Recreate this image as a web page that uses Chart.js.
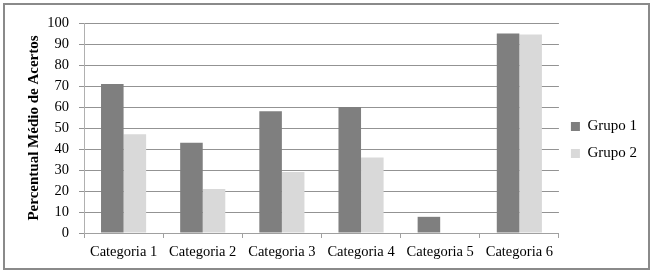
<!DOCTYPE html>
<html lang="pt">
<head>
    <meta charset="UTF-8">
    <title>Percentual Médio de Acertos</title>
    <script src="https://cdn.jsdelivr.net/npm/chart.js"></script>
    <style>
        body {
            margin: 0;
            background-color: #fff;
        }
        .chart-box {
            position: relative;
            width: 655px;
            height: 277px;
        }
    </style>
</head>
<body>
    <div class="chart-box">
        <canvas id="chart" width="655" height="277"></canvas>
    </div>

    <script>
        // Data
        const categories = ['Categoria 1', 'Categoria 2', 'Categoria 3', 'Categoria 4', 'Categoria 5', 'Categoria 6'];
        const grupo1 = [71, 43, 58, 60, 7.7, 95];
        const grupo2 = [47, 21, 29, 36, 0, 94.5];
        const yTicks = [0, 10, 20, 30, 40, 50, 60, 70, 80, 90, 100];

        const serif = 'Liberation Serif';

        // grey frame round the whole chart, and legend nudged up a bit
        const framePlugin = {
            id: 'frame',
            afterLayout(chart) {
                chart.legend.top -= 5;
                chart.legend.bottom -= 5;
            },
            afterDraw(chart) {
                const ctx = chart.ctx;
                ctx.save();
                ctx.strokeStyle = '#8a8a8a';
                ctx.lineWidth = 2;
                ctx.strokeRect(4, 4, 645, 265);
                ctx.restore();
            }
        };

        function drawChart() {
            new Chart(document.getElementById('chart'), {
                type: 'bar',
                data: {
                    labels: categories,
                    datasets: [
                        { label: 'Grupo 1', data: grupo1, backgroundColor: '#7f7f7f' },
                        { label: 'Grupo 2', data: grupo2, backgroundColor: '#d9d9d9' }
                    ]
                },
                options: {
                    responsive: false,
                    animation: false,
                    devicePixelRatio: 1,
                    categoryPercentage: 0.57,
                    barPercentage: 1,
                    layout: { padding: { top: 23, left: 25, right: 8, bottom: 10 } },
                    plugins: {
                        tooltip: { enabled: false },
                        legend: {
                            position: 'right',
                            labels: {
                                boxWidth: 9,
                                boxHeight: 9,
                                padding: 12,
                                color: '#000',
                                font: { family: serif, size: 15 }
                            }
                        }
                    },
                    scales: {
                        x: {
                            grid: {
                                drawOnChartArea: false,
                                drawTicks: true,
                                tickLength: 5,
                                color: '#a0a0a0'
                            },
                            border: { color: '#a0a0a0' },
                            ticks: {
                                color: '#000',
                                maxRotation: 0,
                                padding: 5,
                                font: { family: serif, size: 14.5 }
                            },
                            afterFit(scale) { scale.height = 34; }
                        },
                        y: {
                            min: 0,
                            max: 100,
                            afterBuildTicks(scale) {
                                scale.ticks = yTicks.map(v => ({ value: v }));
                            },
                            grid: {
                                color: '#939393',
                                tickLength: 5
                            },
                            border: { color: '#b0b0b0' },
                            ticks: {
                                color: '#000',
                                padding: 10,
                                font: { family: serif, size: 14.5 }
                            },
                            title: {
                                display: true,
                                text: 'Percentual Médio de Acertos',
                                color: '#000',
                                padding: 0,
                                font: { family: serif, size: 15, weight: 'bold' }
                            },
                            afterFit(scale) { scale.width = 59; }
                        }
                    }
                },
                plugins: [framePlugin]
            });
        }

        Promise.all([
            document.fonts.load('15px "Liberation Serif"'),
            document.fonts.load('bold 15px "Liberation Serif"')
        ]).then(drawChart, drawChart);
    </script>
</body>
</html>
